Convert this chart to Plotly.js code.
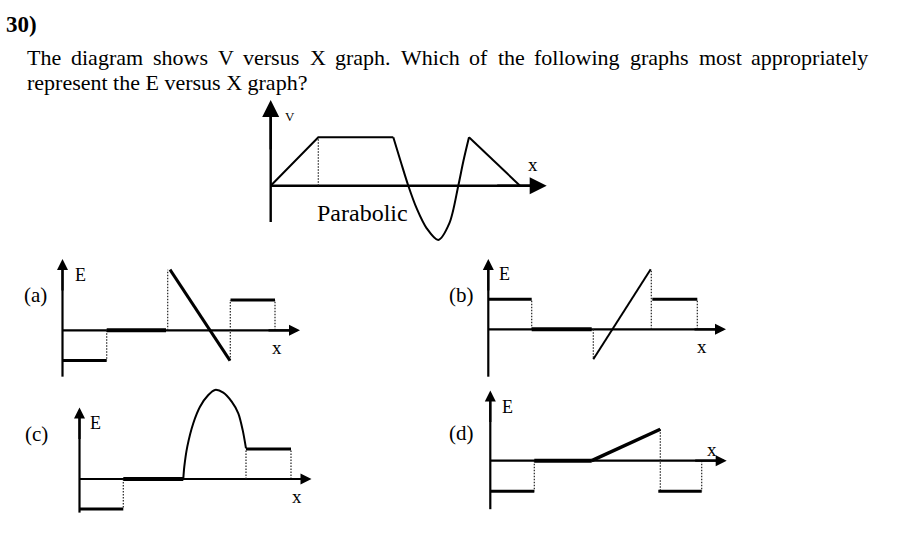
<!DOCTYPE html>
<html><head><meta charset="utf-8">
<script src="https://cdn.plot.ly/plotly-3.0.1.min.js"></script>
<style>html,body{margin:0;padding:0;background:#fff;}#chart{width:908px;height:548px;}</style>
</head><body><div id="chart"></div>
<script>
// ================= DATA =================
// Question text
const qNumber = '30)';
const line1Words = ['The','diagram','shows','V','versus','X','graph.','Which','of','the','following','graphs','most','appropriately'];
const line2Text = 'represent the E versus X graph?';
const curveLabel = 'Parabolic';

// V versus X graph (x in arbitrary units, V in units of the flat level)
const vRampX = [0, 4.76, 12.26];
const vRampV = [0, 1, 1];
const vParabX = [12.26, 13.0, 13.76, 14.6, 15.6, 16.76, 17.86, 18.76, 19.26, 19.83];
const vParabV = [1, 0.5, 0, -0.47, -0.88, -1.12, -0.78, 0, 0.5, 1.0];
const vFallX = [19.83, 24.93];
const vFallV = [1, 0];
const vDotX = [4.76], vDotY0 = [0], vDotY1 = [1];

// (a)
const aLevelX0 = [0, 16.8], aLevelX1 = [4.42, 21.25], aLevelE = [-1, 1];
const aZeroX = [4.42, 10.35];
const aSlopeX = [10.75, 16.75], aSlopeE = [2, -1];
const aDotX = [4.42, 10.52, 16.78, 21.25], aDotE0 = [0, 0, -1, 0], aDotE1 = [-1, 2, 1, 1];

// (b)
const bLevelX0 = [0, 16.4], bLevelX1 = [4.34, 20.9], bLevelE = [1, 1];
const bZeroX = [4.34, 10.34];
const bSlopeX = [10.5, 16.24], bSlopeE = [-1, 2];
const bDotX = [4.34, 10.5, 16.3, 20.9], bDotE0 = [0, 0, 0, 0], bDotE1 = [1, -1, 2, 1];

// (c)
const cLevelX0 = [0, 16.65], cLevelX1 = [4.38, 21.15], cLevelE = [-1, 1];
const cZeroX = [4.38, 10.38];
const cHumpX = [10.38, 10.48, 10.78, 11.38, 12.05, 12.88, 13.55, 14.38, 15.22, 15.88, 16.32, 16.65];
const cHumpE = [0, 0.41, 1.08, 1.86, 2.41, 2.8, 2.97, 2.88, 2.58, 2.19, 1.63, 1.02];
const cDotX = [4.38, 16.65, 21.15], cDotE0 = [0, 0, 0], cDotE1 = [-1, 1, 1];

// (d)
const dLevelX0 = [0, 16.8], dLevelX1 = [4.4, 21.14], dLevelE = [-1, -1];
const dZeroX = [4.4, 10.14];
const dSlopeX = [10.14, 17.0], dSlopeE = [0, 1.03];
const dDotX = [4.4, 17.0, 21.14], dDotE0 = [0, 1.03, 0], dDotE1 = [-1, -1, -1];

// Axis labels
const optionLabels = ['(a)', '(b)', '(c)', '(d)'];
const yLabels = ['V', 'E', 'E', 'E', 'E'];
const xLabels = ['x', 'x', 'x', 'x', 'x'];

// ================= LAYOUT / STYLE =================
const W = 908, H = 548;
const FONT = '"Liberation Serif", "Times New Roman", serif';
// origin pixel, px per unit, subplot box [left,right,top,bottom], axis extents
const frames = [
  {ox:270.7, oy:185.7, sx:10, sy:48.4, box:[250,560,95,246], yBot:-0.75, yTop:1.77, xTip:27.6, head:3.4, aw:2.4},
  {ox:62.5,  oy:330.3, sx:10, sy:30.3, box:[10,320,250,380],  yBot:-1.53, yTop:2.35, xTip:23.75, head:2.2, aw:2.2},
  {ox:488.3, oy:329.3, sx:10, sy:30,   box:[440,740,250,380], yBot:-1.58, yTop:2.34, xTip:23.77, head:2.2, aw:2.2},
  {ox:79.5,  oy:479,   sx:10, sy:30,   box:[10,320,382,520],  yBot:-1.12, yTop:2.38, xTip:23.2, head:2.2, aw:2.2},
  {ox:490.3, oy:460.7, sx:10, sy:30.5, box:[440,740,382,520], yBot:-1.59, yTop:2.3, xTip:23.64, head:2.2, aw:2.2}
];

function segs(x0s, x1s, ys) { const x=[], y=[]; x0s.forEach((v,i)=>{x.push(v,x1s[i],null); y.push(ys[i],ys[i],null);}); return {x,y}; }
function verts(xs, y0s, y1s) { const x=[], y=[]; xs.forEach((v,i)=>{x.push(v,v,null); y.push(y0s[i],y1s[i],null);}); return {x,y}; }

const traces = [];
const layout = {
  width: W, height: H, margin:{l:0,r:0,t:0,b:0,pad:0},
  paper_bgcolor:'#ffffff', plot_bgcolor:'#ffffff', showlegend:false, hovermode:false,
  annotations: []
};
const ids = ['', '2', '3', '4', '5'];
frames.forEach((f,i) => {
  const xa = 'x'+ids[i], ya = 'y'+ids[i];
  const [l,r,t,b] = f.box;
  layout['xaxis'+ids[i]] = {domain:[l/W, r/W], range:[(l-f.ox)/f.sx, (r-f.ox)/f.sx], visible:false, fixedrange:true, anchor:ya};
  layout['yaxis'+ids[i]] = {domain:[1-b/H, 1-t/H], range:[(f.oy-b)/f.sy, (f.oy-t)/f.sy], visible:false, fixedrange:true, anchor:xa};
  const headLen = 5*f.head;
  // axis lines (stop under arrowheads)
  traces.push({type:'scatter', mode:'lines', xaxis:xa, yaxis:ya,
    x:[0, 0, null, 0, f.xTip - 0.6*headLen/f.sx],
    y:[f.yBot, f.yTop - 0.6*headLen/f.sy, null, 0, 0],
    line:{color:'#000', width: i===0 ? 2.4 : 2.2}, hoverinfo:'skip'});
  // arrowheads
  const common = {xref:xa, yref:ya, axref:xa, ayref:ya, showarrow:true, arrowhead:2,
    arrowwidth:f.aw, arrowsize:f.head/f.aw, arrowcolor:'#000', text:'', font:{size:1}, standoff:0};
  layout.annotations.push(Object.assign({}, common, {x:0, y:f.yTop, ax:0, ay:f.yTop - 3*headLen/f.sy}));
  layout.annotations.push(Object.assign({}, common, {x:f.xTip, y:0, ax:f.xTip - 3*headLen/f.sx, ay:0}));
});

function addLine(i, x, y, width, extra) {
  traces.push(Object.assign({type:'scatter', mode:'lines', xaxis:'x'+ids[i], yaxis:'y'+ids[i], x, y,
    line:Object.assign({color:'#000', width}, extra||{}), hoverinfo:'skip', connectgaps:false}));
}
function addDots(i, d) { addLine(i, d.x, d.y, 1.2, {dash:'1.5px,1.5px', color:'#222'}); }

// V graph
addDots(0, verts(vDotX, vDotY0, vDotY1));
addLine(0, vRampX, vRampV, 2);
addLine(0, vParabX, vParabV, 2, {shape:'spline', smoothing:0.9});
addLine(0, vFallX, vFallV, 2);

// (a)
addDots(1, verts(aDotX, aDotE0, aDotE1));
const aL = segs(aLevelX0, aLevelX1, aLevelE); addLine(1, aL.x, aL.y, 3);
addLine(1, aZeroX, [0,0], 4);
addLine(1, aSlopeX, aSlopeE, 3);

// (b)
addDots(2, verts(bDotX, bDotE0, bDotE1));
const bL = segs(bLevelX0, bLevelX1, bLevelE); addLine(2, bL.x, bL.y, 3);
addLine(2, bZeroX, [0,0], 4);
addLine(2, bSlopeX, bSlopeE, 2);

// (c)
addDots(3, verts(cDotX, cDotE0, cDotE1));
const cL = segs(cLevelX0, cLevelX1, cLevelE); addLine(3, cL.x, cL.y, 3);
addLine(3, cZeroX, [0,0], 4);
addLine(3, cHumpX, cHumpE, 2, {shape:'spline', smoothing:0.8});

// (d)
addDots(4, verts(dDotX, dDotE0, dDotE1));
const dL = segs(dLevelX0, dLevelX1, dLevelE); addLine(4, dL.x, dL.y, 3);
addLine(4, dZeroX, [0,0], 4);
addLine(4, dSlopeX, dSlopeE, 3.5);

// ---- text ----
function paperText(text, px, py, size, opts) {
  layout.annotations.push(Object.assign({xref:'paper', yref:'paper', x:px/W, y:1-py/H, text,
    showarrow:false, xanchor:'center', yanchor:'middle', borderpad:0, borderwidth:0,
    font:{family:FONT, size, color:'#000'}}, opts||{}));
}
paperText('<b>'+qNumber+'</b>', 6, 24.7, 23, {xanchor:'left'});
// justified first line
const ctx = document.createElement('canvas').getContext('2d');
ctx.font = '22px "Liberation Serif"';
const widths = line1Words.map(w => ctx.measureText(w).width);
const startX = 26.5, endX = 868.5;
const gap = (endX - startX - widths.reduce((a,b)=>a+b,0)) / (line1Words.length - 1);
let cx = startX;
line1Words.forEach((w,i) => { paperText(w, cx, 57.6, 22, {xanchor:'left'}); cx += widths[i] + gap; });
paperText(line2Text, 26.5, 82.6, 22, {xanchor:'left'});

// graph labels
paperText(yLabels[0], 290, 116.7, 13);
paperText(xLabels[0], 532.7, 164.7, 19);
paperText(curveLabel, 362.2, 212.5, 24);
const optPos = [[35.5,294.7],[461.7,294.7],[36.7,433.5],[461.7,433]];
const ePos = [[80,275],[504.7,273.8],[95.8,423.3],[507.2,406.7]];
const xPos = [[276.7,347.5],[702,346.7],[296.7,496],[712,449.3]];
optionLabels.forEach((t,i) => {
  paperText(t, optPos[i][0], optPos[i][1], 21);
  paperText(yLabels[i+1], ePos[i][0], ePos[i][1], 18);
  paperText(xLabels[i+1], xPos[i][0], xPos[i][1], 19);
});

Plotly.newPlot('chart', traces, layout, {staticPlot:true, displayModeBar:false});
</script></body></html>
